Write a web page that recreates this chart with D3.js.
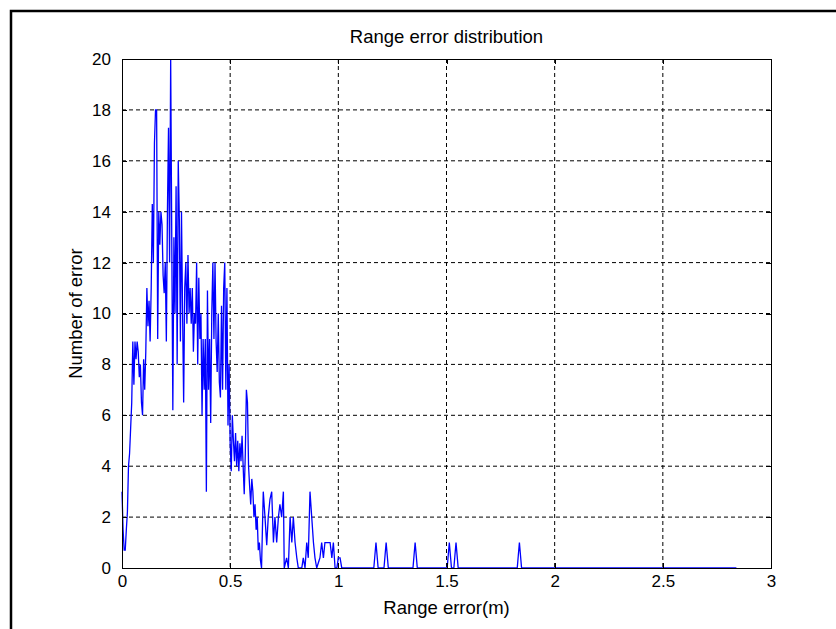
<!DOCTYPE html>
<html>

<head>
    <style type="text/css">
    html,
    body {
        margin: 0px;
        padding: 0px;
        background: #fff;
        font-family: 'Liberation Sans', Arial, sans-serif;
    }

    .grid line {
        stroke: #000;
        stroke-width: 1px;
        stroke-dasharray: 4, 3;
    }

    .axis path,
    .axis line {
        stroke: #000;
        stroke-width: 1px;
        shape-rendering: crispEdges;
    }

    .axis text {
        font-size: 17px;
        fill: #000;
    }

    .error-line {
        fill: none;
        stroke: #0000ff;
        stroke-width: 1.3px;
    }
    </style>
    <script src="https://d3js.org/d3.v7.min.js"></script>
    <title>Range error distribution</title>
</head>

<body>
</body>
<script type="text/javascript">
// values
// counts of the dense part, one every 0.005 m from 0 to 0.645
var denseStep = 0.005;
var denseCounts = [
    3, 1.5, 0.7, 0.7, 1.5, 2.2, 4, 4.5, 5.5, 6.5,
    8.9, 7.2, 8.9, 8.2, 8.9, 8.5, 7.5, 8, 6.5, 6,
    8.2, 7, 8.5, 11, 9.5, 10.5, 8.9, 11, 14.3, 12,
    16.7, 18, 18, 9, 14, 12.7, 14, 13.5, 11.5, 10.8,
    12, 8.9, 14, 17.3, 12, 20, 13, 6.2, 13, 10,
    15, 8, 16, 13.7, 8.9, 14, 10, 6.5, 11, 12,
    9.6, 12.3, 10, 11, 9.6, 11, 8.5, 10, 9.6, 12,
    8, 11.4, 9, 10, 6, 9, 7, 9, 3, 10.9,
    7, 9, 5.7, 10, 12, 9, 12, 8.9, 7.7, 10,
    7.3, 6.7, 10.3, 7, 11, 12, 7, 11, 5.6, 8,
    4.9, 3.8, 6, 5, 4.2, 5.3, 4, 5, 3.8, 4.9,
    4.2, 5.2, 4, 2.9, 4.5, 7, 6.5, 4, 3.2, 2.5,
    3.5, 3, 2, 2.5, 1.5, 2, 0.7, 1, 0.3, 0
];

// sparse tail after 0.65 m
var tailX = [
    0.653, 0.661, 0.669, 0.676, 0.684, 0.692, 0.700, 0.707, 0.715, 0.723,
    0.730, 0.738, 0.746, 0.750, 0.761, 0.769, 0.777, 0.785, 0.792, 0.800,
    0.808, 0.815, 0.831, 0.838, 0.846, 0.854, 0.861, 0.869, 0.877, 0.885,
    0.892, 0.900, 0.915, 0.923, 0.931, 0.938, 0.946, 0.954, 0.962, 0.970,
    0.977, 0.985, 0.993, 1.000, 1.008, 1.016,
    1.164, 1.169, 1.174, 1.179, 1.184,
    1.211, 1.216, 1.221, 1.226, 1.231,
    1.345, 1.350, 1.355, 1.360, 1.365,
    1.503, 1.508, 1.513, 1.518, 1.523,
    1.534, 1.539, 1.544, 1.549, 1.554,
    1.827, 1.832, 1.837, 1.842, 1.847,
    2.840
];
var tailCounts = [
    3, 2, 0.9, 2, 2.7, 3, 1, 2, 1, 2,
    2.5, 2, 3, 0, 0.4, 0, 2, 1, 2, 1,
    0.4, 0, 0, 0.4, 0, 1, 0.4, 3, 2, 1,
    0.4, 0, 0.4, 1, 0.4, 1, 1, 1, 1, 0.4,
    1, 0, 0, 0.4, 0.4, 0,
    0, 0.5, 1, 0.5, 0,
    0, 0.5, 1, 0.5, 0,
    0, 0.5, 1, 0.5, 0,
    0, 0.5, 1, 0.5, 0,
    0, 0.5, 1, 0.5, 0,
    0, 0.5, 1, 0.5, 0,
    0
];

var xTicks = [0, 0.5, 1, 1.5, 2, 2.5, 3];
var yTicks = [0, 2, 4, 6, 8, 10, 12, 14, 16, 18, 20];

var titleText = "Range error distribution";
var xLabelText = "Range error(m)";
var yLabelText = "Number of error";

// dimensions
var width = 836;
var height = 629;

var margin = {
    top: 59,
    bottom: 61,
    left: 122,
    right: 65,
}

var plotWidth = width - margin.left - margin.right;
var plotHeight = height - margin.top - margin.bottom;

var svg = d3.select("body")
    .append("svg")
    .attr("width", width)
    .attr("height", height);

// outer frame of the figure
svg.append("rect")
    .attr("x", 11)
    .attr("y", 11)
    .attr("width", width)
    .attr("height", height)
    .attr("fill", "none")
    .attr("stroke", "#000")
    .attr("stroke-width", 2.5);

var g = svg.append("g")
    .attr("transform", "translate(" + margin.left + "," + margin.top + ")");

var x = d3.scaleLinear().domain([0, 3]).range([0, plotWidth]);
var y = d3.scaleLinear().domain([0, 20]).range([plotHeight, 0]);

// dashed grid
g.append("g")
    .attr("class", "grid")
    .selectAll("line.v")
    .data(xTicks.slice(1, -1))
    .enter().append("line")
    .attr("x1", function(d) { return x(d); })
    .attr("x2", function(d) { return x(d); })
    .attr("y1", 0)
    .attr("y2", plotHeight);

g.append("g")
    .attr("class", "grid")
    .selectAll("line.h")
    .data(yTicks.slice(1, -1))
    .enter().append("line")
    .attr("x1", 0)
    .attr("x2", plotWidth)
    .attr("y1", function(d) { return y(d); })
    .attr("y2", function(d) { return y(d); });

// put the points together
var points = denseCounts.map(function(c, i) {
    return [i * denseStep, c];
});
tailX.forEach(function(d, i) {
    points.push([d, tailCounts[i]]);
});

var line = d3.line()
    .x(function(d) { return x(d[0]); })
    .y(function(d) { return y(d[1]); });

g.append("path")
    .datum(points)
    .attr("class", "error-line")
    .attr("d", line);

// axes, ticks pointing inwards on all four sides
g.append("g")
    .attr("class", "axis")
    .attr("transform", "translate(0," + plotHeight + ")")
    .call(d3.axisBottom(x).tickValues(xTicks).tickFormat(d3.format("")).tickSize(-5).tickPadding(7));

g.append("g")
    .attr("class", "axis")
    .call(d3.axisLeft(y).tickValues(yTicks).tickFormat(d3.format("")).tickSize(-5).tickPadding(11));

g.append("g")
    .attr("class", "axis")
    .call(d3.axisTop(x).tickValues(xTicks).tickFormat("").tickSize(-5));

g.append("g")
    .attr("class", "axis")
    .attr("transform", "translate(" + plotWidth + ",0)")
    .call(d3.axisRight(y).tickValues(yTicks).tickFormat("").tickSize(-5));

// title and axis labels
svg.append("text")
    .attr("x", margin.left + plotWidth / 2)
    .attr("y", 43)
    .attr("text-anchor", "middle")
    .style("font-size", "18.5px")
    .text(titleText);

svg.append("text")
    .attr("x", margin.left + plotWidth / 2)
    .attr("y", 614)
    .attr("text-anchor", "middle")
    .style("font-size", "18.5px")
    .text(xLabelText);

svg.append("text")
    .attr("transform", "translate(82," + (margin.top + plotHeight / 2) + ") rotate(-90)")
    .attr("text-anchor", "middle")
    .style("font-size", "18.5px")
    .text(yLabelText);
</script>

</html>
